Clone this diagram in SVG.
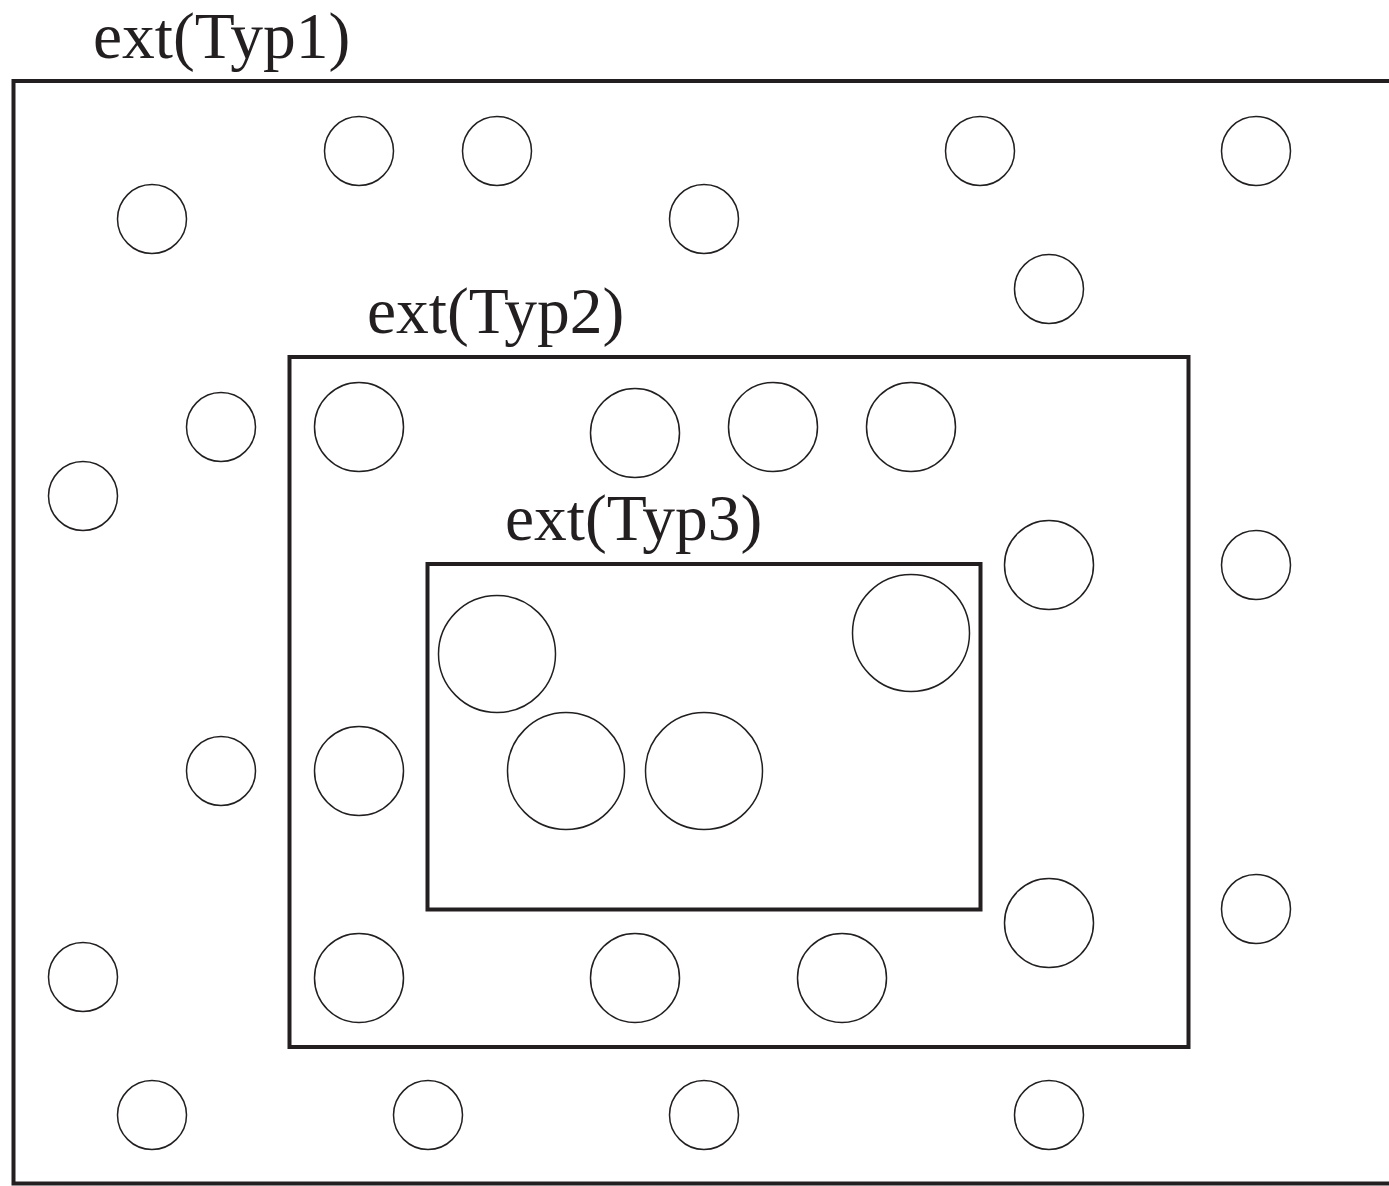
<svg xmlns="http://www.w3.org/2000/svg" width="1389" height="1186" viewBox="0 0 1389 1186">
<style>
.box{fill:none;stroke:#231f20;stroke-width:4}
.c{fill:none;stroke:#231f20;stroke-width:1.5}
.lbl{font-family:"Liberation Serif",serif;font-size:65.5px;fill:#231f20}
</style>
<rect width="1389" height="1186" fill="#fff"/>
<g id="typ1">
<rect class="box" x="13.5" y="81" width="1390" height="1102.5"/>
<text class="lbl" x="93" y="58">ext(Typ1)</text>
</g>
<g id="typ2">
<rect class="box" x="289.5" y="357" width="899" height="690"/>
<text class="lbl" x="367" y="333">ext(Typ2)</text>
</g>
<g id="typ3">
<rect class="box" x="427.5" y="564" width="553" height="345.5"/>
<text class="lbl" x="505" y="540">ext(Typ3)</text>
</g>
<g id="small">
<circle class="c" cx="359" cy="151" r="34.5"/>
<circle class="c" cx="497" cy="151" r="34.5"/>
<circle class="c" cx="980" cy="151" r="34.5"/>
<circle class="c" cx="1256" cy="151" r="34.5"/>
<circle class="c" cx="152" cy="219" r="34.5"/>
<circle class="c" cx="704" cy="219" r="34.5"/>
<circle class="c" cx="1049" cy="289" r="34.5"/>
<circle class="c" cx="221" cy="427" r="34.5"/>
<circle class="c" cx="83" cy="496" r="34.5"/>
<circle class="c" cx="1256" cy="565" r="34.5"/>
<circle class="c" cx="221" cy="771" r="34.5"/>
<circle class="c" cx="1256" cy="909" r="34.5"/>
<circle class="c" cx="83" cy="977" r="34.5"/>
<circle class="c" cx="152" cy="1115" r="34.5"/>
<circle class="c" cx="428" cy="1115" r="34.5"/>
<circle class="c" cx="704" cy="1115" r="34.5"/>
<circle class="c" cx="1049" cy="1115" r="34.5"/>
</g>
<g id="medium">
<circle class="c" cx="359" cy="427" r="44.5"/>
<circle class="c" cx="635" cy="433" r="44.5"/>
<circle class="c" cx="773" cy="427" r="44.5"/>
<circle class="c" cx="911" cy="427" r="44.5"/>
<circle class="c" cx="1049" cy="565" r="44.5"/>
<circle class="c" cx="359" cy="771" r="44.5"/>
<circle class="c" cx="1049" cy="923" r="44.5"/>
<circle class="c" cx="359" cy="978" r="44.5"/>
<circle class="c" cx="635" cy="978" r="44.5"/>
<circle class="c" cx="842" cy="978" r="44.5"/>
</g>
<g id="large">
<circle class="c" cx="497" cy="654" r="58.5"/>
<circle class="c" cx="911" cy="633" r="58.5"/>
<circle class="c" cx="566" cy="771" r="58.5"/>
<circle class="c" cx="704" cy="771" r="58.5"/>
</g>
<g id="connectors"/>
</svg>
